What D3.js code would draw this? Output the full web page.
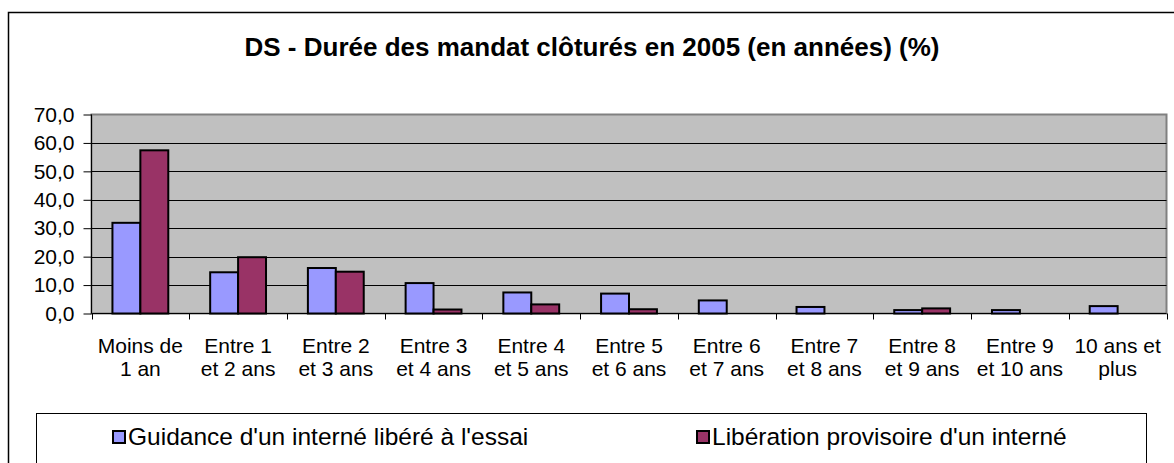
<!DOCTYPE html>
<html>
<head>
<meta charset="utf-8">
<script src="https://cdn.jsdelivr.net/npm/d3@7"></script>
<style>
  body { margin: 0; background: #fff; }
  text { font-family: Arial, "Liberation Sans", sans-serif; fill: #000; }
</style>
</head>
<body>
<div id="chart"></div>
<script>
// data
const categories = ["Moins de 1 an", "Entre 1 et 2 ans", "Entre 2 et 3 ans", "Entre 3 et 4 ans",
  "Entre 4 et 5 ans", "Entre 5 et 6 ans", "Entre 6 et 7 ans", "Entre 7 et 8 ans",
  "Entre 8 et 9 ans", "Entre 9 et 10 ans", "10 ans et plus"];
const tickLabels = [["Moins de", "1 an"], ["Entre 1", "et 2 ans"], ["Entre 2", "et 3 ans"],
  ["Entre 3", "et 4 ans"], ["Entre 4", "et 5 ans"], ["Entre 5", "et 6 ans"], ["Entre 6", "et 7 ans"],
  ["Entre 7", "et 8 ans"], ["Entre 8", "et 9 ans"], ["Entre 9", "et 10 ans"], ["10 ans et", "plus"]];
const seriesNames = ["Guidance d'un interné libéré à l'essai", "Libération provisoire d'un interné"];
const guidance = [31.9, 14.5, 16.0, 10.7, 7.4, 7.0, 4.6, 2.3, 1.2, 1.2, 2.6];
const liberation = [57.4, 19.8, 14.7, 1.4, 3.2, 1.5, 0, 0, 1.8, 0, 0];
const yTicks = [0, 10, 20, 30, 40, 50, 60, 70];
const colors = ["#9999FF", "#993366"];

const W = 1174, H = 463;
const svg = d3.select("#chart").append("svg").attr("width", W).attr("height", H);

// outer chart frame (right and bottom run off the picture)
svg.append("rect").attr("x", 8.5).attr("y", 12.5).attr("width", W + 10).attr("height", H + 10)
  .attr("fill", "#fff").attr("stroke", "#000").attr("stroke-width", 1.5);

svg.append("text").attr("x", 592).attr("y", 56).attr("text-anchor", "middle")
  .style("font-size", "26px").style("font-weight", "bold")
  .text("DS - Durée des mandat clôturés en 2005 (en années) (%)");

const plot = { left: 91.5, top: 114.5, right: 1166.5, bottom: 313.5 };

const x0 = d3.scaleBand().domain(categories).range([plot.left, plot.right]).padding(0);
const x1 = d3.scaleBand().domain([0, 1]).range([0, x0.bandwidth()]).paddingInner(0).paddingOuter(0.75);
const y = d3.scaleLinear().domain([0, 70]).range([plot.bottom, plot.top]);

svg.append("rect").attr("x", plot.left).attr("y", plot.top)
  .attr("width", plot.right - plot.left).attr("height", plot.bottom - plot.top)
  .attr("fill", "#C0C0C0").attr("stroke", "#808080").attr("stroke-width", 2);

// gridlines
svg.append("g").selectAll("line").data(yTicks.slice(1, -1)).join("line")
  .attr("x1", plot.left).attr("x2", plot.right)
  .attr("y1", d => Math.round(y(d)) + 0.5).attr("y2", d => Math.round(y(d)) + 0.5)
  .attr("stroke", "#000").attr("stroke-width", 1);

// bars
const series = [guidance, liberation];
series.forEach((vals, s) => {
  svg.append("g").selectAll("rect").data(vals).join("rect")
    .attr("x", (d, i) => x0(categories[i]) + x1(s))
    .attr("y", d => y(d))
    .attr("width", x1.bandwidth())
    .attr("height", d => y(0) - y(d))
    .attr("fill", colors[s]).attr("stroke", "#000").attr("stroke-width", 2);
});

// axes
svg.append("line").attr("x1", plot.left).attr("x2", plot.left).attr("y1", plot.top).attr("y2", plot.bottom)
  .attr("stroke", "#000");
svg.append("line").attr("x1", plot.left).attr("x2", plot.right).attr("y1", plot.bottom).attr("y2", plot.bottom)
  .attr("stroke", "#000");

const yAxis = d3.axisLeft(y).tickValues(yTicks).tickSize(8).tickPadding(9)
  .tickFormat(d => d3.format(".1f")(d).replace(".", ","));
svg.append("g").attr("transform", `translate(${plot.left},0)`).call(yAxis)
  .call(g => g.select(".domain").remove())
  .call(g => g.selectAll("text").style("font-size", "21px").attr("fill", "#000"));

// x ticks at category boundaries
const bounds = categories.map(c => x0(c)).concat([plot.right]);
svg.append("g").selectAll("line").data(bounds).join("line")
  .attr("x1", d => Math.round(d) + 0.5).attr("x2", d => Math.round(d) + 0.5)
  .attr("y1", plot.bottom).attr("y2", plot.bottom + 6).attr("stroke", "#000");

const xl = svg.append("g").selectAll("text").data(tickLabels).join("text")
  .attr("x", (d, i) => x0(categories[i]) + x0.bandwidth() / 2)
  .attr("y", 353).attr("text-anchor", "middle").style("font-size", "21px");
xl.selectAll("tspan").data(d => d).join("tspan")
  .attr("x", function () { return d3.select(this.parentNode).attr("x"); })
  .attr("dy", (d, i) => i === 0 ? 0 : 23).text(d => d);

// legend
svg.append("rect").attr("x", 36.5).attr("y", 413.5).attr("width", 1110).attr("height", 60)
  .attr("fill", "#fff").attr("stroke", "#000").attr("stroke-width", 1);
const legX = [113, 697];
const leg = svg.append("g").selectAll("g").data(seriesNames).join("g")
  .attr("transform", (d, i) => `translate(${legX[i]},431)`);
leg.append("rect").attr("width", 12).attr("height", 12)
  .attr("fill", (d, i) => colors[i]).attr("stroke", "#000").attr("stroke-width", 2);
leg.append("text").attr("x", 15).attr("y", 14).style("font-size", "24.5px").text(d => d);
</script>
</body>
</html>
